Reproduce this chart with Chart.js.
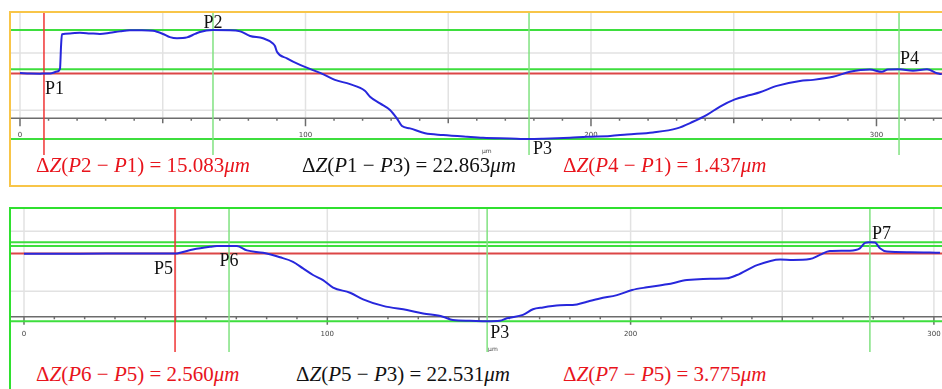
<!DOCTYPE html>
<html>
<head>
<meta charset="utf-8">
<title>Step height profiles</title>
<script src="https://cdn.jsdelivr.net/npm/chart.js@4.4.1/dist/chart.umd.min.js"></script>
<style>
  html, body { margin: 0; padding: 0; background: #fff; }
  body { position: relative; width: 942px; height: 389px; overflow: hidden; }
  .panel { position: absolute; box-sizing: border-box; border: 2px solid; }
  #topPanel { left: 9px; top: 11px; width: 945px; height: 176px; border-color: #f8c548; }
  #bottomPanel { left: 9px; top: 207px; width: 945px; height: 200px; border-color: #2fe02f; }
  canvas { position: absolute; }
  #topChart { left: 11px; top: 13px; }
  #bottomChart { left: 11px; top: 209px; }
  .eq { position: absolute; font: 21px/21px 'Liberation Serif', 'Times New Roman', serif; white-space: nowrap; }
  .eq.red { color: #e8141c; }
  .eq.black { color: #111; }
</style>
</head>
<body>
<div class="panel" id="topPanel"></div>
<div class="panel" id="bottomPanel"></div>
<canvas id="topChart" width="931" height="142"></canvas>
<canvas id="bottomChart" width="931" height="143"></canvas>
<div id="equations"></div>
<script>
// upper trace: position along the scan (µm) and height (µm)
const topX = [0, 3.5, 7.0, 8.4, 10.5, 13.0, 14.0, 14.4, 14.7, 17.5, 21.0, 24.5, 28.0, 31.5, 35.0, 38.5,
  42.7, 46.6, 50.1, 52.5, 55.0, 58.5, 61.3, 63.0, 67.6, 73.6, 77.1, 80.6, 85.1, 88.6, 89.3, 90.0, 93.5,
  98.1, 102.6, 106.1, 110.3, 115.6, 120.8, 122.6, 126.1, 129.6, 132.0, 133.8, 136.6, 141.9, 148.2, 156.6,
  162.2, 171.6, 178.3, 183.2, 192.6, 198.6, 206.7, 212.6, 221.7, 230.1, 235.7, 240.6, 245.2, 250.4, 255.7,
  259.2, 265.1, 273.2, 277.8, 284.8, 290.7, 297.7, 301.9, 304.0, 307.9, 312.8, 317.7, 321.2, 322.9];
const topZ = [23.0, 22.8, 22.75, 22.863, 22.85, 23.5, 24.4, 32.8, 36.5, 36.8, 37.0, 36.8, 36.6, 37.0, 37.5, 37.9,
  37.9, 37.7, 36.6, 35.5, 35.1, 35.4, 36.6, 37.3, 37.946, 37.9, 37.5, 35.9, 35.1, 33.3, 32.4, 30.4, 28.1,
  25.8, 24.0, 22.6, 20.6, 19.1, 16.8, 14.7, 12.4, 10.1, 7.2, 4.5, 3.7, 2.0, 1.4, 0.8,
  0.45, 0.2, 0, 0.1, 0.45, 0.8, 1.05, 1.6, 2.3, 3.7, 6.0, 8.4, 11.3, 13.8, 15.3,
  16.3, 18.5, 20.2, 20.6, 21.7, 23.4, 24.2, 23.4, 24.25, 24.3, 23.8, 24.3, 22.9, 22.6];
const topPoints = ['P1', 'P2', 'P3', 'P4'];
const topPointX = [8.4, 67.6, 178.3, 307.9];
const topPointZ = [22.863, 37.946, 0, 24.300];

// lower trace
const bottomX = [0, 18.5, 35.9, 49.8, 52.1, 55.7, 61.3, 63.6, 67.6, 70.2, 73.5, 78.8, 84.4, 88.7, 92.0,
  95.3, 98.6, 101.9, 107.5, 111.8, 118.4, 126.3, 131.6, 138.1, 141.4, 147.0, 152.7, 156.9, 159.2, 164.5,
  167.8, 171.1, 176.7, 182.3, 185.6, 189.9, 195.5, 200.5, 205.4, 212.0, 218.6, 223.9, 231.8, 235.1, 241.7,
  249.3, 253.5, 259.1, 262.4, 265.7, 272.3, 275.6, 277.3, 278.9, 280.6, 282.2, 284.5, 292.1, 302.0];
const bottomZ = [22.45, 22.45, 22.6, 22.531, 23.0, 23.9, 24.8, 25.05, 25.091, 25.05, 23.6, 22.8, 21.3, 19.8, 17.6,
  15.4, 13.7, 11.2, 9.5, 7.3, 5.1, 3.7, 2.6, 1.5, 0.4, 0.15, 0, 0.15, 1.0, 2.1,
  4.0, 4.6, 5.3, 5.6, 6.5, 7.6, 8.7, 10.4, 11.3, 12.3, 13.7, 14.1, 14.3, 15.4, 18.7,
  20.6, 20.4, 20.7, 22.1, 23.4, 23.5, 24.3, 26.1, 26.306, 26.2, 24.3, 23.2, 23.0, 22.8];
const bottomPoints = ['P5', 'P6', 'P3', 'P7'];
const bottomPointX = [49.8, 67.6, 152.7, 278.9];
const bottomPointZ = [22.531, 25.091, 0, 26.306];

const xTickLabels = [0, 100, 200, 300];
const gridZ = [10, 30];

// height differences written under each trace
const topDiffs = [['P2', 'P1'], ['P1', 'P3'], ['P4', 'P1']];
const bottomDiffs = [['P6', 'P5'], ['P5', 'P3'], ['P7', 'P5']];

// grid, scan axis and point names
const profileFrame = {
  id: 'profileFrame',
  beforeDatasetsDraw(chart, args, o) {
    const { ctx, chartArea: a, scales: { x, y } } = chart;
    const axisY = y.getPixelForValue(o.axisAt);
    ctx.save();
    ctx.lineWidth = 1.5;
    ctx.strokeStyle = '#e2e2e2';
    ctx.beginPath();
    gridZ.forEach(z => {
      const py = y.getPixelForValue(z);
      ctx.moveTo(a.left, py);
      ctx.lineTo(a.right, py);
    });
    for (let v = 0; v <= x.max; v += 50) {
      const px = x.getPixelForValue(v);
      ctx.moveTo(px, a.top);
      ctx.lineTo(px, axisY);
    }
    ctx.stroke();

    ctx.strokeStyle = '#6c6c6c';
    ctx.beginPath();
    ctx.moveTo(a.left, axisY);
    ctx.lineTo(a.right, axisY);
    for (let v = 0; v <= x.max; v += 10) {
      const px = x.getPixelForValue(v);
      const len = v % 100 === 0 ? 8 : v % 50 === 0 ? 5 : 2.5;
      ctx.moveTo(px, axisY);
      ctx.lineTo(px, axisY + len);
    }
    ctx.stroke();

    ctx.fillStyle = '#444';
    ctx.textAlign = 'center';
    ctx.textBaseline = 'middle';
    ctx.font = '7px "DejaVu Sans", sans-serif';
    xTickLabels.forEach(v => ctx.fillText(String(v), x.getPixelForValue(v), axisY + 17));
    ctx.font = '6px "DejaVu Sans", sans-serif';
    ctx.fillText('µm', x.getPixelForValue(o.unitAt), axisY + 33);
    ctx.restore();
  },
  afterDatasetsDraw(chart, args, o) {
    const { ctx, scales: { x, y } } = chart;
    ctx.save();
    ctx.fillStyle = '#111';
    ctx.font = '18px "Liberation Serif", "Times New Roman", serif';
    ctx.textBaseline = 'alphabetic';
    o.names.forEach((name, i) => {
      const p = o.place[i];
      ctx.textAlign = p.align;
      ctx.fillText(name, x.getPixelForValue(o.px[i]) + p.dx, y.getPixelForValue(o.pz[i]) + p.dy);
    });
    ctx.restore();
  }
};

function makeProfile(canvasId, cfg) {
  const datasets = [{
    data: cfg.x.map((v, i) => ({ x: v, y: cfg.z[i] })),
    borderColor: '#2727dc',
    borderWidth: 2,
    pointRadius: 0,
    cubicInterpolationMode: 'monotone',
    order: 0
  }];
  cfg.names.forEach((name, i) => {
    const isRef = name === cfg.ref;
    // level line through the point
    datasets.push({
      data: [{ x: cfg.xRange[0], y: cfg.pz[i] }, { x: cfg.xRange[1], y: cfg.pz[i] }],
      borderColor: isRef ? '#dc4646' : '#3ede3e',
      borderWidth: 2,
      pointRadius: 0,
      order: 2
    });
    // position line through the point
    datasets.push({
      data: [{ x: cfg.px[i], y: cfg.yRange[0] }, { x: cfg.px[i], y: cfg.yRange[1] }],
      borderColor: isRef ? '#f03434' : '#80e280',
      borderWidth: 1.5,
      pointRadius: 0,
      order: 1
    });
  });

  return new Chart(document.getElementById(canvasId), {
    type: 'line',
    data: { datasets },
    options: {
      responsive: false,
      devicePixelRatio: 1,
      animation: false,
      events: [],
      layout: { padding: 0 },
      scales: {
        x: { type: 'linear', min: cfg.xRange[0], max: cfg.xRange[1], display: false },
        y: { type: 'linear', min: cfg.yRange[0], max: cfg.yRange[1], display: false }
      },
      plugins: {
        legend: { display: false },
        tooltip: { enabled: false },
        profileFrame: {
          axisAt: cfg.axisAt,
          unitAt: cfg.unitAt,
          names: cfg.names,
          px: cfg.px,
          pz: cfg.pz,
          place: cfg.place
        }
      }
    },
    plugins: [profileFrame]
  });
}

makeProfile('topChart', {
  x: topX, z: topZ,
  names: topPoints, px: topPointX, pz: topPointZ, ref: 'P1',
  xRange: [-3.15, 322.95], yRange: [-5.575, 43.9],
  axisAt: 7.2, unitAt: 163.5,
  place: [
    { align: 'left', dx: 1, dy: 21 },
    { align: 'center', dx: 0, dy: -2 },
    { align: 'left', dx: 4, dy: 15 },
    { align: 'left', dx: 1, dy: -5 }
  ]
});

makeProfile('bottomChart', {
  x: bottomX, z: bottomZ,
  names: bottomPoints, px: bottomPointX, pz: bottomPointZ, ref: 'P5',
  xRange: [-4.286, 302.67], yRange: [-10.267, 37.4],
  axisAt: 1.5, unitAt: 154.6,
  place: [
    { align: 'right', dx: -2, dy: 20 },
    { align: 'center', dx: 0, dy: 20 },
    { align: 'left', dx: 3, dy: 17 },
    { align: 'left', dx: 2, dy: -3 }
  ]
});

// ΔZ formulas
function diffHtml(a, b, names, levels) {
  const val = (levels[names.indexOf(a)] - levels[names.indexOf(b)]).toFixed(3);
  const pt = n => `<i>P</i>${n.slice(1)}`;
  return `Δ<i>Z</i>(${pt(a)} − ${pt(b)}) = ${val}<i>μm</i>`;
}

const eqBox = document.getElementById('equations');
const eqColors = ['red', 'black', 'red'];
function addRow(diffs, names, levels, lefts, top) {
  diffs.forEach((d, i) => {
    const el = document.createElement('div');
    el.className = 'eq ' + eqColors[i];
    el.style.left = lefts[i] + 'px';
    el.style.top = top + 'px';
    el.innerHTML = diffHtml(d[0], d[1], names, levels);
    eqBox.appendChild(el);
  });
}
addRow(topDiffs, topPoints, topPointZ, [36, 302, 563], 155);
addRow(bottomDiffs, bottomPoints, bottomPointZ, [36, 296, 563], 364);
</script>
</body>
</html>
